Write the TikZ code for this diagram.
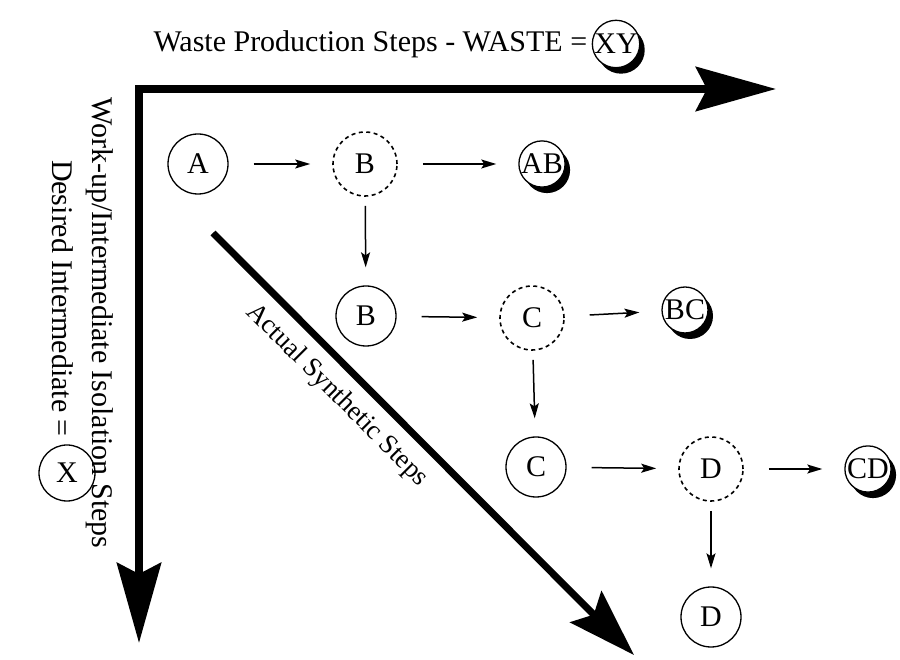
\documentclass[tikz,border=0pt]{standalone}
\usepackage{fontspec}
\setmainfont{Liberation Serif}
\usetikzlibrary{arrows.meta,shadows,positioning}
\tikzset{
  isolated/.style={circle,draw,line width=1.3pt,minimum size=60pt,inner sep=0pt},
  transient/.style={circle,draw,dash pattern=on 4pt off 3.5pt,line width=1.6pt,minimum size=64pt,inner sep=0pt},
  waste/.style={circle,draw,line width=1.3pt,fill=white,inner sep=0pt,minimum size=46pt,
    drop shadow={shadow xshift=5pt,shadow yshift=-6pt,opacity=1,fill=black}},
  flow/.style={-{Stealth[length=15pt,width=9pt,inset=3pt]},line width=1.5pt},
  tostep/.style={flow,shorten <=25pt,shorten >=22pt},
  toiso/.style={flow,shorten <=9pt,shorten >=18pt},
  axis/.style={line width=8pt,line join=miter},
  bighead/.tip={Stealth[length=80pt,width=44pt,inset=11pt]},
}
\begin{document}
\begin{tikzpicture}[x=1pt,y=1pt,font=\fontsize{30}{36}\selectfont]
\useasboundingbox (0,0) rectangle (900,659);
% axes
\coordinate (corner) at (139,570);
\coordinate (downtip) at (139,16);
\coordinate (righttip) at (776,570);
\draw[axis,bighead-bighead] (downtip)--(corner)--(righttip);
\coordinate (diagstart) at (213,426);
\coordinate (diagtip) at (634,4);
\draw[axis,line width=7pt,-{Stealth[length=68pt,width=44pt,inset=11pt]}] (diagstart)--(diagtip)
     node[pos=0.34,sloped,below=8pt,font=\fontsize{27}{32}\selectfont]{Actual Synthetic Steps};
% legend
\node[anchor=west](wastelabel) at (150,615){Waste Production Steps - WASTE =};
\node[waste,right=1pt of wastelabel](XY){XY};
\node[rotate=-90](worklabel) at (100,336){Work-up/Intermediate Isolation Steps};
\node[isolated,minimum size=56pt](X) at (67,186){X};
\node[rotate=-90,anchor=east](desired) at ([xshift=-4pt,yshift=4pt]X.north){Desired Intermediate =};
% steps
\node[isolated](A) at (198,495){A};
\node[transient](Bt) at (365,495){B};
\node[waste](AB) at (542,495){AB};
\node[isolated](B) at (366,343){B};
\node[transient](Ct) at (532,341){C};
\node[waste](BC) at (685,349){BC};
\node[isolated](C) at (536,192){C};
\node[transient](Dt) at (711,190){D};
\node[waste](CD) at (868,190){CD};
\node[isolated](D) at (711,42){D};
\draw[tostep](A)--(Bt);
\draw[tostep](Bt)--(AB);
\draw[toiso](Bt)--(B);
\draw[tostep](B)--(Ct);
\draw[tostep](Ct)--(BC);
\draw[toiso](Ct)--(C);
\draw[tostep](C)--(Dt);
\draw[tostep](Dt)--(CD);
\draw[toiso](Dt)--(D);
\end{tikzpicture}
\end{document}
